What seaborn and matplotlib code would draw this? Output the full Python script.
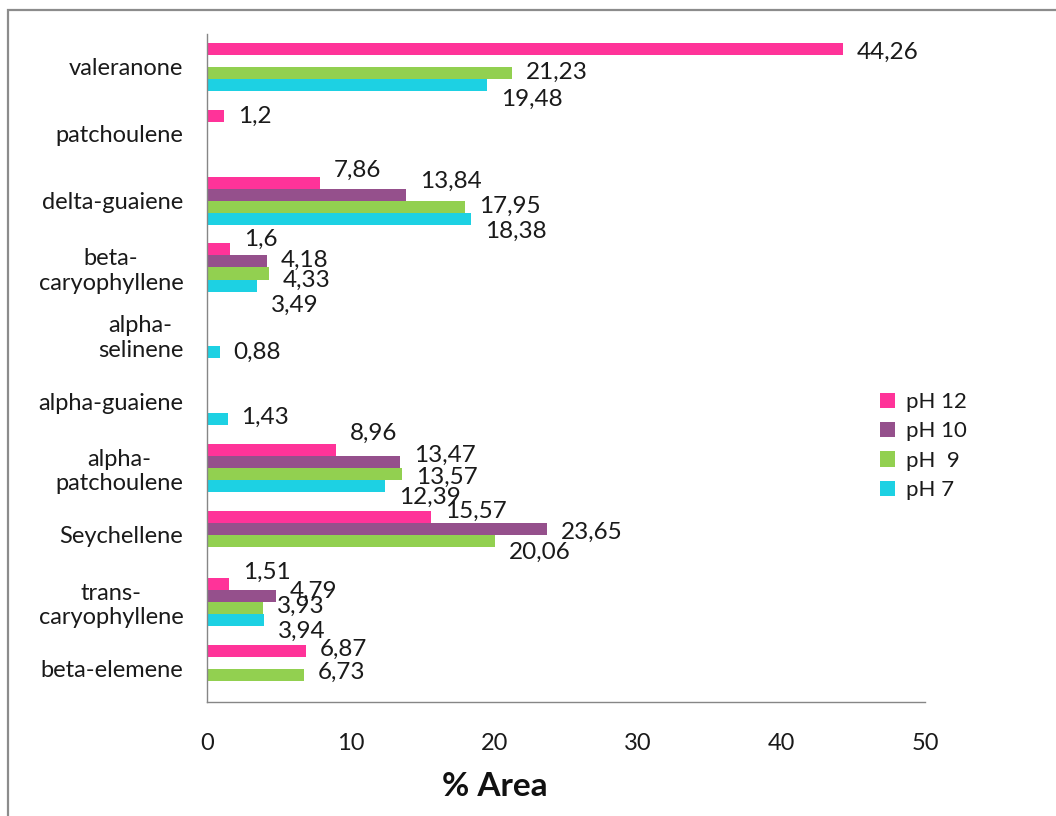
import numpy as np
import pandas as pd
import matplotlib
matplotlib.use("Agg")
import matplotlib.pyplot as plt
from matplotlib.patches import Patch, Rectangle
import seaborn as sns

# Compounds, top to bottom
categories = [
    "valeranone",
    "patchoulene",
    "delta-guaiene",
    "beta-\ncaryophyllene",
    "alpha-\nselinene",
    "alpha-guaiene",
    "alpha-\npatchoulene",
    "Seychellene",
    "trans-\ncaryophyllene",
    "beta-elemene",
]

series_names = ["pH 12", "pH 10", "pH  9", "pH 7"]

# % Area per compound (NaN = not detected)
ph12 = [44.26, 1.2, 7.86, 1.6, np.nan, np.nan, 8.96, 15.57, 1.51, 6.87]
ph10 = [np.nan, np.nan, 13.84, 4.18, np.nan, np.nan, 13.47, 23.65, 4.79, np.nan]
ph9 = [21.23, np.nan, 17.95, 4.33, np.nan, np.nan, 13.57, 20.06, 3.93, 6.73]
ph7 = [19.48, np.nan, 18.38, 3.49, 0.88, 1.43, 12.39, np.nan, 3.94, np.nan]

x_ticks = [0, 10, 20, 30, 40, 50]

colors = ["#FF3399", "#95508C", "#92D050", "#1DD1E3"]

# vertical nudges (pixels, downward) for the value labels so they do not collide
label_nudge = {
    "pH 12": [3, 1, -12.5, -10.5, 0, 0, -17, -5, -11, -1],
    "pH 10": [0, 0, -13, -1.5, 0, 0, -7, 3, -4, 0],
    "pH  9": [-1, 0, -0.5, 6.5, 0, 0, 3, 11, -1, -2],
    "pH 7": [14, 0, 13, 19.5, 0, -2, 11, 0, 12, 0],
}

rows = []
for name, vals in zip(series_names, [ph12, ph10, ph9, ph7]):
    for cat, v in zip(categories, vals):
        rows.append({"compound": cat, "series": name, "area": v})
df = pd.DataFrame(rows).dropna()

sns.set_style("white")
plt.rcParams["font.family"] = ["Lato", "DejaVu Sans"]
plt.rcParams["text.color"] = "#1a1a1a"

fig = plt.figure(figsize=(10.56, 8.16), dpi=100)
ax = fig.add_axes([207 / 1056, 1 - 702 / 816, 718 / 1056, 668.5 / 816])

sns.barplot(
    data=df, y="compound", x="area", hue="series",
    order=categories, hue_order=series_names, palette=colors,
    orient="h", width=0.72, errorbar=None, legend=False,
    saturation=1, linewidth=0, ax=ax,
)

ax.set_xlim(0, 50)
ax.set_ylim(len(categories) - 0.5, -0.5)
ax.set_xticks(x_ticks)
ax.set_xticklabels([str(t) for t in x_ticks])

# value labels at the end of each bar
for name, container in zip(series_names, ax.containers):
    for bar in container:
        w = bar.get_width()
        if np.isnan(w):
            continue
        yc = bar.get_y() + bar.get_height() / 2
        idx = int(round(yc))
        dy = label_nudge[name][idx]
        ax.annotate(
            f"{w:g}".replace(".", ","),
            xy=(w, yc), xytext=(14, -dy), textcoords="offset pixels",
            ha="left", va="center", fontsize=17.5, color="#1a1a1a",
        )

# axes styling
for side in ["top", "right"]:
    ax.spines[side].set_visible(False)
for side in ["left", "bottom"]:
    ax.spines[side].set_color("#868686")
    ax.spines[side].set_linewidth(1.0)

ax.tick_params(axis="x", direction="out", length=4.5, width=1, color="#868686",
               labelsize=17, pad=18, labelcolor="#1a1a1a")
ax.tick_params(axis="y", which="major", length=0, labelsize=17, pad=17,
               labelcolor="#1a1a1a")
ax.set_yticks(np.arange(-0.5, len(categories), 1.0), minor=True)
ax.tick_params(axis="y", which="minor", direction="out", length=4.5, width=1,
               color="#868686")
for lbl in ax.get_yticklabels():
    lbl.set_multialignment("center")

ax.set_ylabel("")
ax.set_xlabel("% Area", fontsize=24, fontweight="bold", color="#111111")
ax.xaxis.set_label_coords((495 - 207) / 718, (702 - 787) / 668.5)
ax.xaxis.label.set_va("center")

handles = [Patch(facecolor=c, edgecolor="none") for c in colors]
ax.legend(
    handles, series_names, loc="upper left",
    bbox_to_anchor=(880 / 1056, 1 - 392 / 816), bbox_transform=fig.transFigure,
    frameon=False, fontsize=16, handlelength=0.68, handleheight=0.68,
    handletextpad=0.5, labelspacing=0.42, borderpad=0, borderaxespad=0,
)

# outer chart border
fig.add_artist(Rectangle((8 / 1056, -0.1), 1.2, 1.1 - 10 / 816,
                         transform=fig.transFigure, fill=False,
                         edgecolor="#8c8c8c", linewidth=1.6))

fig.savefig("out.png", dpi=100)
